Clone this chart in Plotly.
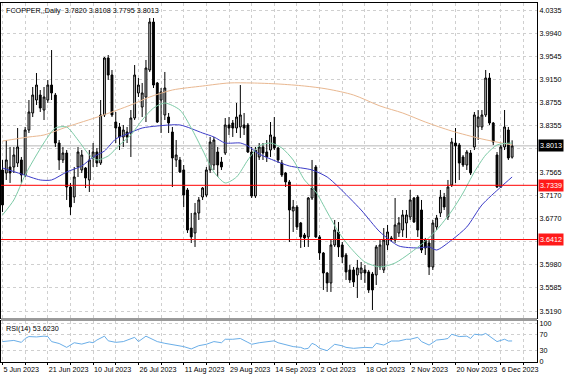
import plotly.graph_objects as go

# ---------------- data ----------------
bar_index = list(range(136))

opens = [3.7601, 3.7549, 3.7652, 3.7652, 3.7720, 3.7772, 3.7515, 3.8284, 3.8575, 3.8797,
         3.8882, 3.8626, 3.8797, 3.9053, 3.8882, 3.8062, 3.7772, 3.7891, 3.7310, 3.7139,
         3.7652, 3.7601, 3.7635, 3.7430, 3.7806, 3.7908, 3.7720, 3.8541, 3.9515, 3.9224,
         3.8421, 3.8336, 3.8165, 3.8250, 3.8233, 3.8489, 3.8917, 3.8677, 3.8848, 3.9310,
         4.0130, 3.9088, 3.8797, 3.8541, 3.8506, 3.8250, 3.7772, 3.7772, 3.7601, 3.7259,
         3.6609, 3.6524, 3.6866, 3.7139, 3.7173, 3.7601, 3.7686, 3.7908, 3.7737, 3.7891,
         3.8370, 3.8404, 3.8318, 3.8336, 3.8370, 3.8370, 3.7908, 3.7156, 3.7823, 3.7994,
         3.7908, 3.7942, 3.8165, 3.7977, 3.7720, 3.7549, 3.7396, 3.6900, 3.6968, 3.6695,
         3.6490, 3.6456, 3.7122, 3.7652, 3.6456, 3.6182, 3.5840, 3.5670, 3.6319, 3.6541,
         3.6319, 3.6148, 3.5892, 3.5892, 3.5806, 3.5840, 3.5892, 3.5858, 3.5823, 3.5806,
         3.5943, 3.5892, 3.6319, 3.6439, 3.6404, 3.6524, 3.6575, 3.6695, 3.6797, 3.7122,
         3.7139, 3.6917, 3.6404, 3.6353, 3.5943, 3.6627, 3.6866, 3.7139, 3.6797, 3.7344,
         3.8062, 3.8028, 3.7823, 3.7686, 3.7891, 3.7994, 3.8336, 3.8336, 3.8541, 3.9173,
         3.8404, 3.7857, 3.7310, 3.7994, 3.8284, 3.7820]

highs = [3.7772, 3.8113, 3.7994, 3.7994, 3.8318, 3.7823, 3.8336, 3.8797, 3.9019, 3.9258,
         3.8968, 3.9019, 3.9139, 3.9651, 3.8917, 3.8113, 3.7994, 3.7942, 3.7379, 3.7652,
         3.7994, 3.7942, 3.7652, 3.7942, 3.8062, 3.7977, 3.8797, 3.9532, 3.9566, 3.9310,
         3.8592, 3.8404, 3.8370, 3.8336, 3.8626, 3.9395, 3.9173, 3.9088, 3.9481, 4.0198,
         4.0198, 3.9105, 3.9002, 3.9276, 3.8575, 3.8336, 3.8113, 3.7823, 3.7686, 3.7293,
         3.6866, 3.7037, 3.7139, 3.7310, 3.7652, 3.8165, 3.8165, 3.7994, 3.7823, 3.8489,
         3.8506, 3.8455, 3.8746, 3.9053, 3.8575, 3.8404, 3.7994, 3.7994, 3.8062, 3.8062,
         3.8113, 3.8421, 3.8506, 3.7994, 3.7772, 3.7567, 3.7430, 3.7088, 3.7003, 3.6712,
         3.6524, 3.7139, 3.7772, 3.7686, 3.6490, 3.6199, 3.5858, 3.6404, 3.6746, 3.6712,
         3.6370, 3.6182, 3.5977, 3.5943, 3.6063, 3.6028, 3.5977, 3.5892, 3.5858, 3.6319,
         3.6404, 3.6609, 3.6661, 3.6473, 3.7122, 3.6797, 3.6917, 3.6917, 3.7259, 3.7139,
         3.7173, 3.7088, 3.6439, 3.6404, 3.6746, 3.6832, 3.7259, 3.7208, 3.7430, 3.8148,
         3.8318, 3.8062, 3.7857, 3.7942, 3.7942, 3.8592, 3.8626, 3.8626, 3.9310, 3.9258,
         3.8421, 3.7908, 3.8028, 3.8626, 3.8336, 3.8108]

lows = [3.6883, 3.7430, 3.7379, 3.7549, 3.7652, 3.7379, 3.7481, 3.8233, 3.8506, 3.8712,
        3.8592, 3.8455, 3.8746, 3.8797, 3.7994, 3.7601, 3.7720, 3.7088, 3.6832, 3.7037,
        3.7481, 3.7549, 3.7293, 3.7225, 3.7652, 3.7652, 3.7686, 3.8506, 3.9139, 3.8506,
        3.8062, 3.7942, 3.7994, 3.8062, 3.7823, 3.8455, 3.8848, 3.8506, 3.8421, 3.9276,
        3.9002, 3.8404, 3.8233, 3.8455, 3.8233, 3.7310, 3.7652, 3.7549, 3.6968, 3.6524,
        3.6353, 3.6285, 3.6746, 3.7088, 3.7139, 3.7549, 3.7601, 3.7481, 3.7601, 3.7857,
        3.8199, 3.8165, 3.8233, 3.8148, 3.8199, 3.7891, 3.7122, 3.7122, 3.7772, 3.7772,
        3.7737, 3.7823, 3.7942, 3.7720, 3.7481, 3.7310, 3.6370, 3.6541, 3.6575, 3.6268,
        3.6285, 3.6285, 3.7088, 3.6439, 3.6063, 3.5550, 3.5516, 3.5516, 3.6285, 3.6114,
        3.6011, 3.5721, 3.5670, 3.5601, 3.5413, 3.5721, 3.5670, 3.5499, 3.5208, 3.5635,
        3.5892, 3.5840, 3.6233, 3.6370, 3.6353, 3.6456, 3.6456, 3.6439, 3.6746, 3.6695,
        3.6456, 3.6182, 3.6148, 3.5806, 3.5892, 3.6575, 3.6797, 3.6917, 3.6746, 3.7310,
        3.7379, 3.7430, 3.7652, 3.7601, 3.7515, 3.7942, 3.8113, 3.8284, 3.8506, 3.8370,
        3.8028, 3.7293, 3.7293, 3.7942, 3.7772, 3.7795]

closes = [3.7003, 3.7772, 3.7549, 3.7857, 3.7994, 3.7515, 3.8284, 3.8592, 3.8882, 3.9053,
          3.8660, 3.8848, 3.9053, 3.8917, 3.8062, 3.7772, 3.7891, 3.7310, 3.6968, 3.7481,
          3.7908, 3.7857, 3.7464, 3.7772, 3.7908, 3.7720, 3.8541, 3.9515, 3.9224, 3.8541,
          3.8318, 3.8165, 3.8284, 3.8165, 3.8489, 3.9224, 3.9053, 3.8917, 3.9344, 4.0130,
          3.9053, 3.8421, 3.8934, 3.9002, 3.8404, 3.7806, 3.7857, 3.7567, 3.7173, 3.6575,
          3.6456, 3.6866, 3.7088, 3.7293, 3.7601, 3.8079, 3.8113, 3.7686, 3.7652, 3.8370,
          3.8318, 3.8318, 3.8506, 3.8541, 3.8318, 3.7908, 3.7156, 3.7942, 3.7994, 3.7891,
          3.7823, 3.8199, 3.7977, 3.7772, 3.7515, 3.7396, 3.6917, 3.6968, 3.6627, 3.6456,
          3.6439, 3.7122, 3.7293, 3.6456, 3.6182, 3.5840, 3.5670, 3.6319, 3.6575, 3.6285,
          3.6114, 3.5858, 3.5721, 3.5687, 3.5926, 3.5926, 3.5840, 3.5550, 3.5550, 3.6285,
          3.6319, 3.6404, 3.6541, 3.6421, 3.6661, 3.6695, 3.6832, 3.6832, 3.7088, 3.6712,
          3.6575, 3.6233, 3.6268, 3.5943, 3.6695, 3.6780, 3.7139, 3.6968, 3.7310, 3.8079,
          3.8011, 3.7720, 3.7686, 3.7908, 3.7549, 3.8541, 3.8506, 3.8541, 3.9173, 3.8404,
          3.8079, 3.7310, 3.7994, 3.8336, 3.7806, 3.8013]

# moving averages (bar index, price)
ma_fast_idx = [0, 3, 6, 9, 12, 14, 17, 20, 23, 25, 28, 31, 34, 37, 40, 43, 47, 50, 53, 56,
               59, 62, 65, 68, 71, 74, 77, 80, 83, 86, 89, 92, 96, 100, 104, 108, 112, 115,
               119, 122, 125, 128, 131, 135]
ma_fast = [3.6832, 3.7088, 3.7515, 3.7857, 3.8165, 3.8318, 3.8336, 3.8113, 3.7857, 3.7772,
           3.7840, 3.8028, 3.8199, 3.8455, 3.8660, 3.8746, 3.8626, 3.8318, 3.7942, 3.7567,
           3.7379, 3.7481, 3.7772, 3.8011, 3.8062, 3.7977, 3.7772, 3.7430, 3.7225, 3.6883,
           3.6541, 3.6285, 3.6028, 3.5943, 3.6011, 3.6182, 3.6387, 3.6575, 3.6900, 3.7208,
           3.7567, 3.7857, 3.8028, 3.8062]

ma_mid_idx = [0, 5, 10, 13, 17, 21, 24, 27, 30, 33, 37, 41, 47, 53, 56, 59, 63, 65, 68, 73,
              76, 82, 86, 89, 95, 100, 105, 110, 113, 115, 119, 123, 127, 132, 135]
ma_mid = [3.7635, 3.7532, 3.7430, 3.7430, 3.7567, 3.7669, 3.7823, 3.7925, 3.8131, 3.8216,
          3.8318, 3.8353, 3.8370, 3.8233, 3.8165, 3.8062, 3.8062, 3.8011, 3.7874, 3.7737,
          3.7669, 3.7601, 3.7481, 3.7310, 3.6917, 3.6541, 3.6302, 3.6268, 3.6285, 3.6233,
          3.6404, 3.6627, 3.7003, 3.7310, 3.7481]

ma_slow_idx = [0, 7, 11, 17, 26, 34, 39, 45, 53, 60, 66, 73, 80, 86, 93, 100, 106, 112,
               119, 127, 135]
ma_slow = [3.8096, 3.8165, 3.8199, 3.8336, 3.8524, 3.8712, 3.8848, 3.8968, 3.9036, 3.9088,
           3.9088, 3.9071, 3.9036, 3.8985, 3.8882, 3.8695, 3.8575, 3.8421, 3.8267, 3.8131,
           3.8028]

rsi_idx = [0, 2, 3, 5, 6, 7, 9, 11, 12, 13, 15, 17, 19, 21, 23, 24, 25, 27, 28, 30, 32, 35,
           36, 38, 40, 41, 43, 46, 48, 50, 52, 54, 56, 58, 59, 61, 63, 65, 66, 68, 70, 72,
           73, 75, 77, 79, 80, 81, 82, 83, 84, 86, 88, 90, 91, 93, 95, 96, 98, 99, 101, 103,
           104, 105, 107, 108, 110, 111, 113, 115, 117, 118, 119, 121, 123, 124, 125, 127,
           128, 130, 131, 133, 134, 135]
rsi_vals = [52, 53, 55, 50, 60, 65, 64, 66, 65, 52, 47, 37, 49, 45.5, 51, 49, 56, 66, 54,
            50, 52, 63, 52, 66, 56, 52, 47.5, 43, 39, 33, 41.4, 45, 52, 49, 58, 58, 60, 50,
            45, 49, 52, 54, 49, 43, 39, 37, 33, 34.5, 47.5, 43, 34.5, 28.5, 45, 41, 37, 34.5,
            37, 37, 36, 47.5, 43, 53.5, 53.5, 53.5, 58, 58, 63, 52, 43, 56, 58, 60, 71, 65,
            66, 60, 71, 69, 73, 58, 52, 58, 53.5, 53.6]

date_labels = ["5 Jun 2023", "21 Jun 2023", "10 Jul 2023", "26 Jul 2023", "11 Aug 2023",
               "29 Aug 2023", "14 Sep 2023", "2 Oct 2023", "18 Oct 2023", "2 Nov 2023",
               "20 Nov 2023", "6 Dec 2023"]
price_ticks = [4.0335, 3.9940, 3.9545, 3.9150, 3.8755, 3.8355, 3.7960, 3.7565, 3.7170,
               3.6770, 3.6375, 3.5980, 3.5585, 3.5190]
hidden_price_ticks = [3.7960, 3.6375]   # covered by the price boxes in the reference
rsi_ticks = [0, 30, 70, 100]
level_lines = [3.7339, 3.6412]
last_price = 3.8013
title_text = "FCOPPER,,Daily  3.7820 3.8108 3.7795 3.8013"
rsi_text = "RSI(14) 53.6230"

# ---------------- figure ----------------
FONT = "Liberation Sans, Arial, sans-serif"
GRID = "#cfcfcf"
FS = 7.2

grid_vals = list(range(0, 142, 6))
grid_text = []
for v in grid_vals:
    k = v // 12
    grid_text.append(date_labels[k] if v % 12 == 0 and k < len(date_labels) else "")

price_text = ["" if v in hidden_price_ticks else f"{v:.4f}" for v in price_ticks]

fig = go.Figure()

fig.add_trace(go.Candlestick(
    x=bar_index, open=opens, high=highs, low=lows, close=closes,
    xaxis="x", yaxis="y",
    increasing=dict(line=dict(color="black", width=1), fillcolor="#c0c0c0"),
    decreasing=dict(line=dict(color="black", width=1), fillcolor="black"),
    whiskerwidth=0, showlegend=False, hoverinfo="skip"))

fig.add_trace(go.Scatter(x=ma_slow_idx, y=ma_slow, mode="lines", xaxis="x", yaxis="y",
                         line=dict(color="#e9b891", width=1, shape="spline", smoothing=0.8),
                         showlegend=False, hoverinfo="skip"))
fig.add_trace(go.Scatter(x=ma_mid_idx, y=ma_mid, mode="lines", xaxis="x", yaxis="y",
                         line=dict(color="#3c3cc8", width=1, shape="spline", smoothing=0.7),
                         showlegend=False, hoverinfo="skip"))
fig.add_trace(go.Scatter(x=ma_fast_idx, y=ma_fast, mode="lines", xaxis="x", yaxis="y",
                         line=dict(color="#7ccaa6", width=1, shape="spline", smoothing=0.7),
                         showlegend=False, hoverinfo="skip"))

fig.add_trace(go.Scatter(x=rsi_idx, y=rsi_vals, mode="lines", xaxis="x2", yaxis="y2",
                         line=dict(color="#6aaee8", width=1),
                         showlegend=False, hoverinfo="skip"))

shapes = []
shapes.append(dict(type="line", xref="x domain", yref="y", x0=0, x1=1,
                   y0=last_price, y1=last_price, line=dict(color="#b8b8b8", width=1), layer="below"))
for lv in level_lines:
    shapes.append(dict(type="line", xref="x domain", yref="y", x0=0, x1=1, y0=lv, y1=lv,
                       line=dict(color="#ff0000", width=1), layer="above"))
# separator band between the two panels
shapes.append(dict(type="rect", xref="paper", yref="paper", x0=0, x1=1,
                   y0=0.1142, y1=0.1226, fillcolor="#9a9a9a", line=dict(width=0)))

annotations = [
    dict(text=title_text, xref="paper", yref="paper", x=0, y=1, xanchor="left", yanchor="top",
         xshift=3, yshift=-1, showarrow=False, font=dict(family=FONT, size=FS, color="black")),
    dict(text=rsi_text, xref="paper", yref="y2 domain", x=0, y=1, xanchor="left", yanchor="top",
         xshift=3, yshift=-1, showarrow=False, font=dict(family=FONT, size=FS, color="black")),
    dict(text=f"{last_price:.4f}", xref="paper", yref="y", x=1, y=last_price, xanchor="left",
         yanchor="middle", xshift=1, showarrow=False, bgcolor="black", borderpad=1,
         font=dict(family=FONT, size=FS, color="white")),
]
for lv in level_lines:
    annotations.append(dict(text=f"{lv:.4f}", xref="paper", yref="y", x=1, y=lv, xanchor="left",
                            yanchor="middle", xshift=1, showarrow=False, bgcolor="#ff1a1a",
                            borderpad=1, font=dict(family=FONT, size=FS, color="white")))

xrange = [-0.40, 141.59]
common_x = dict(range=xrange, tickvals=grid_vals, showgrid=True, gridcolor=GRID, griddash="dot",
                gridwidth=1, zeroline=False, showline=True, mirror=True, linecolor="black",
                linewidth=1, fixedrange=True)

fig.update_layout(
    width=564, height=376,
    margin=dict(l=1, r=27, t=3, b=14, autoexpand=False),
    paper_bgcolor="white", plot_bgcolor="white",
    font=dict(family=FONT, size=FS, color="black"),
    showlegend=False,
    shapes=shapes, annotations=annotations,
    xaxis=dict(domain=[0, 1], anchor="y", showticklabels=False, ticks="",
               rangeslider=dict(visible=False), **common_x),
    xaxis2=dict(domain=[0, 1], anchor="y2", matches="x", ticktext=grid_text,
                ticks="outside", ticklen=2, tickcolor="black", tickangle=0,
                ticklabelposition="outside right",
                tickfont=dict(family=FONT, size=FS, color="black"), **common_x),
    yaxis=dict(domain=[0.1226, 1], anchor="x", range=[3.5071, 4.0455], side="right",
               tickvals=price_ticks, ticktext=price_text,
               ticks="", ticklabelstandoff=0,
               tickfont=dict(family=FONT, size=FS, color="black"),
               showgrid=True, gridcolor=GRID, griddash="dot", zeroline=False,
               showline=True, mirror=True, linecolor="black", linewidth=1, fixedrange=True),
    yaxis2=dict(domain=[0, 0.1142], anchor="x2", range=[-0.8, 105.2], side="right",
                tickvals=rsi_ticks, ticktext=[str(v) for v in rsi_ticks],
                ticks="", ticklabelstandoff=0,
                tickfont=dict(family=FONT, size=FS, color="black"),
                showgrid=True, gridcolor=GRID, griddash="dot", zeroline=False,
                showline=True, mirror=True, linecolor="black", linewidth=1, fixedrange=True),
)

fig.write_html("out.html", config={"displayModeBar": False},
               post_script="document.body.style.margin='0';document.body.style.overflow='hidden';"
                           "window.dispatchEvent(new Event('resize'));")
